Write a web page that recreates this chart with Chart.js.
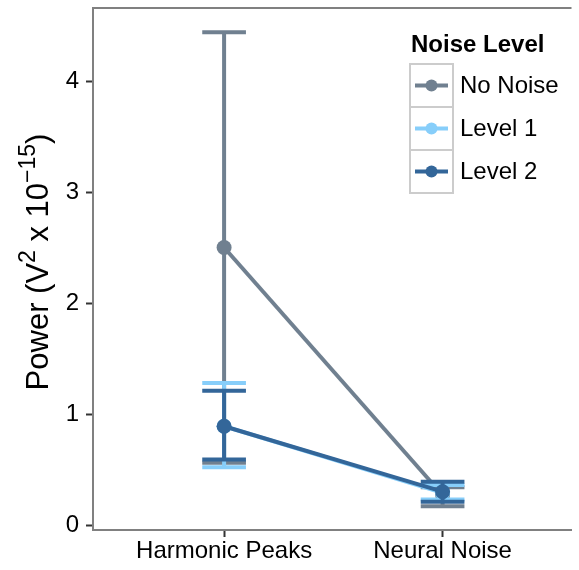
<!DOCTYPE html>
<html><head><meta charset="utf-8">
<script src="https://cdn.jsdelivr.net/npm/chart.js@4"></script>
<style>html,body{margin:0;padding:0;background:#fff;}</style>
</head><body>
<canvas id="c" width="579" height="570"></canvas>
<script>
const categories = ["Harmonic Peaks", "Neural Noise"];
const seriesNames = ["No Noise", "Level 1", "Level 2"];
const noNoiseMean = [2.50, 0.27];
const noNoiseLow  = [0.56, 0.17];
const noNoiseHigh = [4.44, 0.34];
const level1Mean  = [0.89, 0.29];
const level1Low   = [0.52, 0.23];
const level1High  = [1.28, 0.36];
const level2Mean  = [0.89, 0.30];
const level2Low   = [0.59, 0.21];
const level2High  = [1.21, 0.39];
const yTicks = [0, 1, 2, 3, 4];
const colors = ["#708090", "#87CEFA", "#336699"];
const legendTitle = "Noise Level";
const yTitleParts = [["Power (V", 0], ["2", 1], [" x 10", 0], ["\u221215", 1], [")", 0]];

const FONT = "'Liberation Sans', Arial, Helvetica, sans-serif";
const means = [noNoiseMean, level1Mean, level2Mean];
const lows = [noNoiseLow, level1Low, level2Low];
const highs = [noNoiseHigh, level1High, level2High];

const datasets = seriesNames.map((name, s) => ({
  label: name,
  data: categories.map((c, i) => ({ x: i + 1, y: means[s][i] })),
  low: lows[s], high: highs[s],
  borderColor: colors[s], backgroundColor: colors[s],
  pointBackgroundColor: colors[s], pointBorderWidth: 0,
  pointRadius: 7.5, borderWidth: 4, tension: 0,
  order: 3 - s
}));

const errorBars = {
  id: 'errorBars',
  beforeDatasetDraw(chart, args) {
    const ds = chart.data.datasets[args.index];
    const xs = chart.scales.x, ys = chart.scales.y;
    const ctx = chart.ctx;
    ctx.save();
    ctx.strokeStyle = ds.borderColor;
    ctx.lineWidth = 4;
    ctx.lineCap = 'butt';
    ds.data.forEach((p, i) => {
      const x = xs.getPixelForValue(p.x);
      const xl = xs.getPixelForValue(p.x - 0.1), xr = xs.getPixelForValue(p.x + 0.1);
      const yl = ys.getPixelForValue(ds.low[i]), yh = ys.getPixelForValue(ds.high[i]);
      ctx.beginPath();
      ctx.moveTo(x, yl); ctx.lineTo(x, yh);
      ctx.moveTo(xl, yl); ctx.lineTo(xr, yl);
      ctx.moveTo(xl, yh); ctx.lineTo(xr, yh);
      ctx.stroke();
    });
    ctx.restore();
  }
};

const decor = {
  id: 'decor',
  afterDraw(chart) {
    const ctx = chart.ctx, a = chart.chartArea;
    ctx.save();
    ctx.strokeStyle = '#808080'; ctx.lineWidth = 2;
    ctx.beginPath(); ctx.moveTo(a.left - 1, a.top); ctx.lineTo(a.right, a.top); ctx.stroke();
    const big = 31, small = 23;
    let total = 0;
    yTitleParts.forEach(([t, sup]) => { ctx.font = (sup ? small : big) + 'px ' + FONT; total += ctx.measureText(t).width; });
    ctx.translate(37, 262);
    ctx.rotate(-Math.PI / 2);
    ctx.fillStyle = '#000'; ctx.textBaseline = 'alphabetic'; ctx.textAlign = 'left';
    let x = -total / 2;
    yTitleParts.forEach(([t, sup]) => {
      ctx.font = (sup ? small : big) + 'px ' + FONT;
      ctx.fillText(t, x, sup ? -2 : 11);
      x += ctx.measureText(t).width;
    });
    ctx.restore();
    ctx.save();
    ctx.fillStyle = '#000';
    ctx.font = 'bold 24px ' + FONT;
    ctx.textBaseline = 'middle'; ctx.textAlign = 'left';
    ctx.fillText(legendTitle, 411, 45);
    const bx = 410, bw = 43, bh = 43, by0 = 64;
    chart.data.datasets.forEach((ds, i) => {
      const by = by0 + i * bh;
      ctx.strokeStyle = '#cccccc'; ctx.lineWidth = 2;
      ctx.strokeRect(bx, by, bw, bh);
      const cy = by + bh / 2;
      ctx.strokeStyle = ds.borderColor; ctx.lineWidth = 4;
      ctx.beginPath(); ctx.moveTo(bx + 5, cy); ctx.lineTo(bx + bw - 5, cy); ctx.stroke();
      ctx.fillStyle = ds.borderColor;
      ctx.beginPath(); ctx.arc(bx + bw / 2, cy, 6, 0, Math.PI * 2); ctx.fill();
      ctx.fillStyle = '#000'; ctx.font = '24px ' + FONT;
      ctx.fillText(ds.label, 460, cy + 1);
    });
    ctx.restore();
  }
};

function noPad(s) { s.paddingTop = 0; s.paddingBottom = 0; s.paddingLeft = 0; s.paddingRight = 0; }

new Chart(document.getElementById('c'), {
  type: 'line',
  data: { datasets },
  options: {
    responsive: false, animation: false, devicePixelRatio: 1,
    layout: { padding: { top: 8, left: 0, right: 0, bottom: 0 } },
    plugins: { legend: { display: false }, tooltip: { enabled: false } },
    scales: {
      x: {
        type: 'linear', min: 0.4, max: 2.59,
        afterBuildTicks: s => { s.ticks = categories.map((c, i) => ({ value: i + 1 })); },
        afterFit: s => { s.height = 40; noPad(s); },
        ticks: { callback: v => categories[Math.round(v) - 1], color: '#000', font: { family: FONT, size: 24 }, padding: 0, maxRotation: 0, autoSkip: false },
        grid: { drawOnChartArea: false, drawTicks: true, tickLength: 7, tickWidth: 2, tickColor: '#333' },
        border: { color: '#808080', width: 2 }
      },
      y: {
        type: 'linear', min: -0.045, max: 4.658,
        afterBuildTicks: s => { s.ticks = yTicks.map(v => ({ value: v })); },
        afterFit: s => { s.width = 93; noPad(s); },
        ticks: { color: '#000', font: { family: FONT, size: 24 }, padding: 7 },
        grid: { drawOnChartArea: false, drawTicks: true, tickLength: 7, tickWidth: 2, tickColor: '#333' },
        border: { color: '#808080', width: 2 }
      }
    }
  },
  plugins: [errorBars, decor]
});
</script>
</body></html>
